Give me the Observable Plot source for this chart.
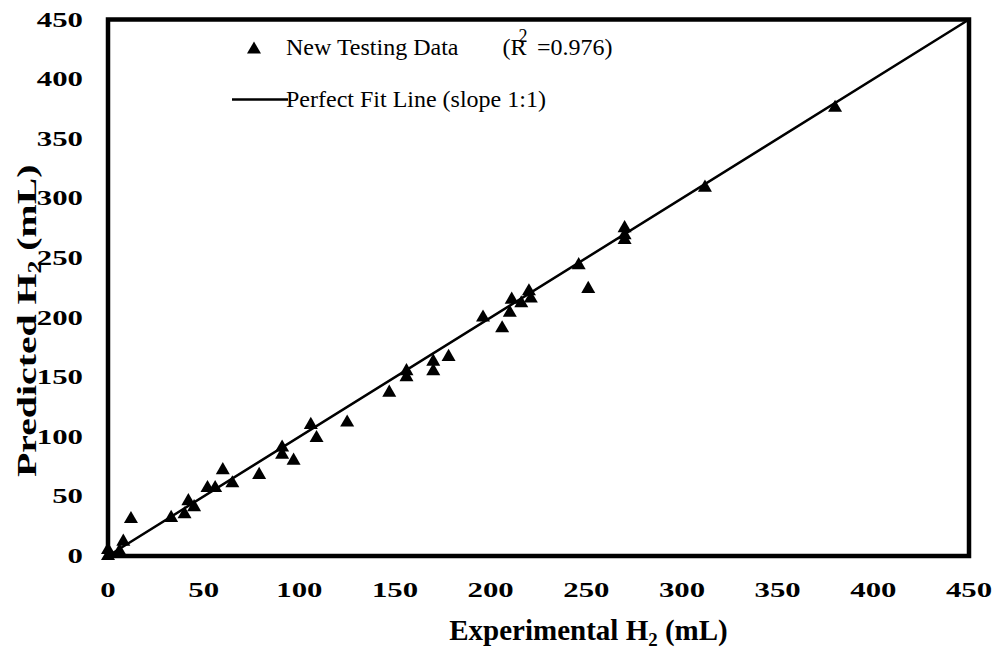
<!DOCTYPE html>
<html>
<head>
<meta charset="utf-8">
<script src="https://cdn.jsdelivr.net/npm/d3@7"></script>
<script src="https://cdn.jsdelivr.net/npm/@observablehq/plot@0.6"></script>
<style>
  html, body { margin: 0; padding: 0; background: #fff; }
  #chart svg { display: block; }
</style>
</head>
<body>
<div id="chart"></div>
<script>
// Experimental vs. predicted hydrogen volume (mL) for the new testing set
const experimental = [0, 0, 6, 8, 12, 33, 40, 42, 45, 52, 56, 60, 65, 79, 91, 91, 97, 106, 109, 125,
  147, 156, 156, 170, 170, 178, 196, 206, 210, 211, 216, 220, 221, 246, 251, 270, 270, 270, 312, 380];
const predicted = [0, 5, 4, 12, 31, 32, 35, 46, 41, 57, 57, 72, 61, 68, 91, 85, 80, 110, 99, 112,
  137, 155, 150, 163, 155, 167, 200, 191, 204, 215, 212, 222, 216, 244, 224, 275, 269, 265, 309, 376];

// Perfect fit line (slope 1:1) end points
const fitLine = [0, 450];

const xTicks = [0, 50, 100, 150, 200, 250, 300, 350, 400, 450];
const yTicks = [0, 50, 100, 150, 200, 250, 300, 350, 400, 450];

const xTitle = "Experimental H2 (mL)";
const yTitle = "Predicted H2 (mL)";
const legendPoints = "New Testing Data (R2 =0.976)";
const legendLine = "Perfect Fit Line (slope 1:1)";

const points = experimental.map((e, i) => ({experimental: e, predicted: predicted[i]}));

const serif = "Liberation Serif";

// short horizontal stroke used as the legend key for the fit line
const dashSymbol = {
  draw(context, size) {
    const w = Math.sqrt(size / Math.PI);
    context.moveTo(-w, 0);
    context.lineTo(w, 0);
  }
};

const tickStyle = {tickSize: 0, tickPadding: 25, fontSize: 22, fontWeight: "bold", fontFamily: serif, label: null, tickFormat: d => String(d)};

const chart = Plot.plot({
  width: 1001,
  height: 651,
  marginLeft: 107.5,
  marginRight: 32.5,
  marginTop: 19,
  marginBottom: 95.5,
  style: {fontFamily: serif, background: "#fff", color: "#000", overflow: "visible"},
  x: {domain: [0, 450]},
  y: {domain: [0, 450]},
  marks: [
    Plot.line(fitLine, {x: d => d, y: d => d, stroke: "#000", strokeWidth: 2.5}),
    Plot.dot(points, {x: "experimental", y: "predicted", symbol: "triangle", fill: "#000", r: 5.2}),
    Plot.frame({stroke: "#000", strokeWidth: 4.5}),
    Plot.axisX(xTicks, tickStyle),
    Plot.axisY(yTicks, tickStyle),
    Plot.text([xTitle], {text: d => d, frameAnchor: "bottom", dx: 50, dy: 75, textAnchor: "middle", lineAnchor: "middle", fontSize: 29, fontWeight: "bold", fontFamily: serif}),
    Plot.text([yTitle], {text: d => d, frameAnchor: "left", dx: -81, dy: 33, rotate: -90, textAnchor: "middle", lineAnchor: "middle", fontSize: 28, fontWeight: "bold", fontFamily: serif}),
    // legend
    Plot.dot([legendPoints], {frameAnchor: "top-left", dx: 146, dy: 30, symbol: "triangle", fill: "#000", r: 5.2}),
    Plot.dot([legendLine], {frameAnchor: "top-left", dx: 152, dy: 80, symbol: dashSymbol, r: 28, stroke: "#000", strokeWidth: 2.5, fill: "none"}),
    Plot.text([legendPoints], {text: d => d, frameAnchor: "top-left", dx: 178, dy: 28, textAnchor: "start", lineAnchor: "middle", fontSize: 24, fontFamily: serif}),
    Plot.text([legendLine], {text: d => d, frameAnchor: "top-left", dx: 178, dy: 80, textAnchor: "start", lineAnchor: "middle", fontSize: 24, fontFamily: serif})
  ]
});

document.getElementById("chart").append(chart);

const svg = d3.select(chart);

// "H2" with a subscript 2
function subscriptH2(sel) {
  const [before, after] = sel.text().split("H2");
  sel.text(null);
  sel.append("tspan").text(before + "H");
  sel.append("tspan").attr("font-size", "0.65em").attr("dy", "0.3em").text("2");
  sel.append("tspan").attr("dy", "-0.2em").text(after);
}

// legend entry: label, a wide gap, then "(R" with its exponent raised over the R
function legendR2(sel) {
  const s = sel.text();
  const cut = s.indexOf("(");
  const [open, after] = s.slice(cut).split("R2");
  sel.text(null);
  sel.append("tspan").text(s.slice(0, cut).trim());
  sel.append("tspan").attr("dx", 44).text(open + "R");
  sel.append("tspan").attr("font-size", "0.75em").attr("dx", "-0.45em").attr("dy", "-0.75em").text("2");
  sel.append("tspan").attr("dx", "0.15em").attr("dy", "0.56em").text(after);
}

// horizontal glyph scaling
function stretch(node, sx) {
  const t = node.getAttribute("transform") || "";
  node.setAttribute("transform", t + ` scale(${sx},1)`);
}

svg.selectAll("text").each(function () {
  const s = this.textContent;
  const sel = d3.select(this);
  if (s === xTitle) subscriptH2(sel);
  else if (s === yTitle) { subscriptH2(sel); stretch(this, 1.42); }
  else if (s === legendPoints) legendR2(sel);
  else if (/^\d+$/.test(s)) stretch(this, 1.4);
});
</script>
</body>
</html>
